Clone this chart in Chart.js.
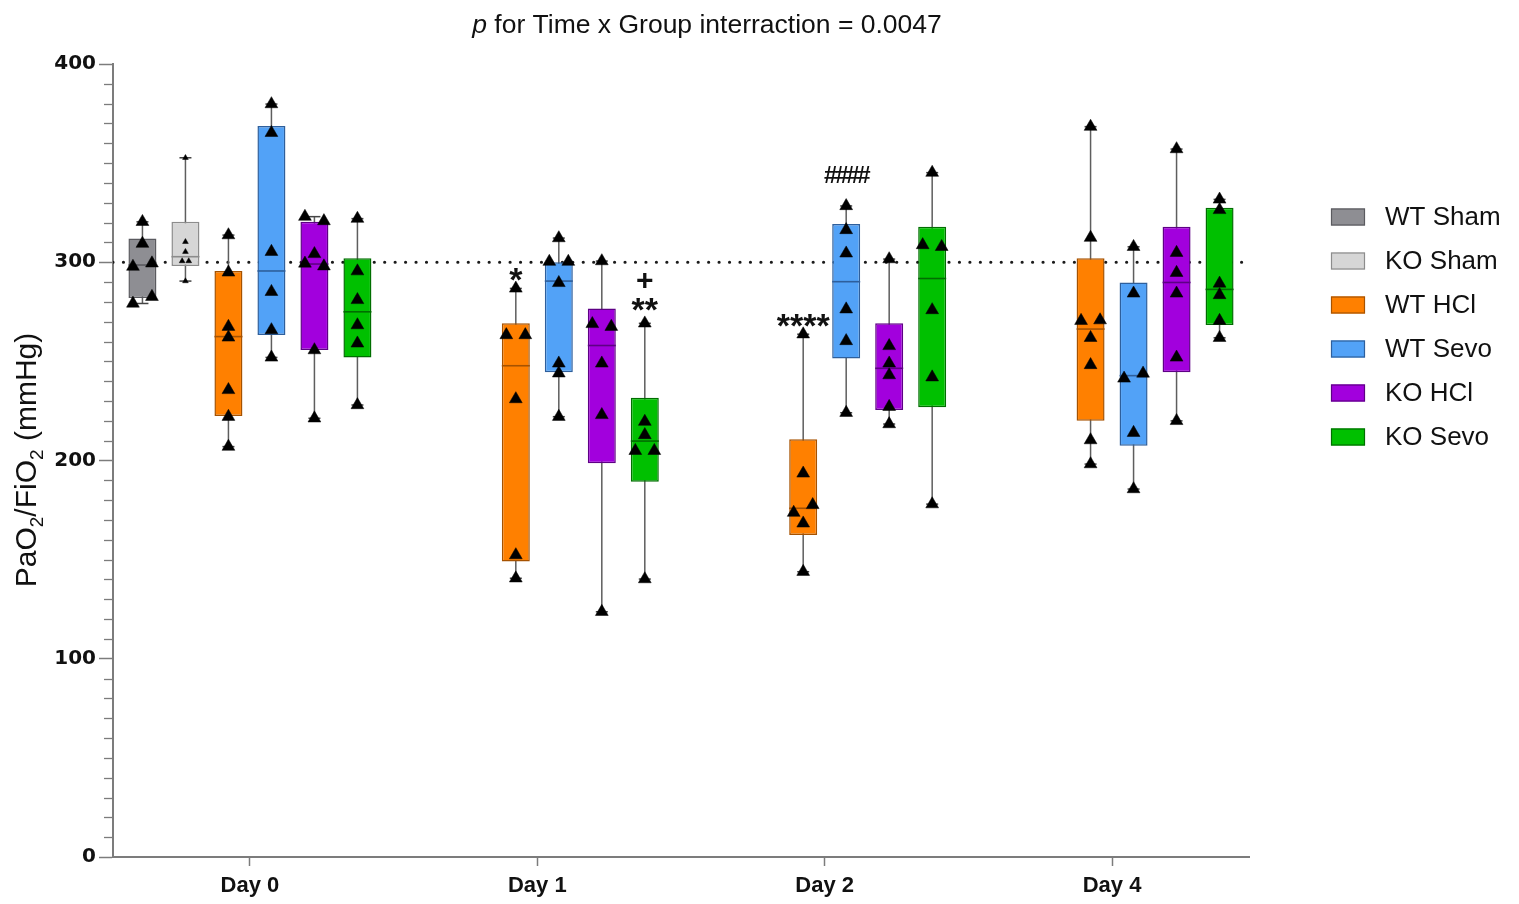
<!DOCTYPE html>
<html>
<head>
<meta charset="utf-8">
<title>PaO2/FiO2 by group and day</title>
<script src="https://cdn.jsdelivr.net/npm/chart.js@4.4.1/dist/chart.umd.min.js"></script>
<style>
  html, body { margin: 0; padding: 0; background: #ffffff; }
  #wrap { width: 1519px; height: 904px; position: relative; }
</style>
</head>
<body>
<div id="wrap"><canvas id="chart" width="1519" height="904"></canvas></div>
<script>
// ---- data -------------------------------------------------------------
const DAYS = ['Day 0', 'Day 1', 'Day 2', 'Day 4'];
const GROUPS = ['WT Sham', 'KO Sham', 'WT HCl', 'WT Sevo', 'KO HCl', 'KO Sevo'];
const Y_TICKS = [0, 100, 200, 300, 400];
const REF_LEVEL = 300;

// individual animals per day (null = group not sampled that day)
const WT_SHAM_PTS = [[320.4, 309.4, 297.8, 299.5, 279.2, 282.6], null, null, null];
const KO_SHAM_PTS = [[352.7, 310.3, 305.3, 300.6, 300.6, 290.5], null, null, null];
const WT_HCL_PTS = [
  [313.7, 294.9, 267.5, 262.1, 235.6, 222.1, 207.0],
  [286.8, 263.3, 263.3, 231.0, 152.3, 140.6],
  [263.7, 193.5, 173.7, 177.6, 168.3, 143.9],
  [368.4, 312.4, 270.5, 270.8, 261.9, 248.2, 210.3, 198.2]
];
const WT_SEVO_PTS = [
  [379.8, 365.3, 305.3, 285.1, 265.8, 252.0],
  [312.2, 300.3, 300.3, 289.6, 249.0, 244.0, 222.1],
  [328.4, 316.3, 304.5, 276.3, 260.3, 224.1],
  [307.8, 284.3, 241.4, 243.9, 214.0, 185.6]
];
const KO_HCL_PTS = [
  [323.0, 320.8, 304.2, 299.4, 298.0, 255.7, 221.3],
  [300.6, 268.9, 267.5, 249.0, 223.0, 123.7],
  [301.6, 257.8, 249.0, 243.1, 227.1, 218.4],
  [357.1, 304.8, 294.7, 284.3, 252.0, 220.0]
];
const KO_SEVO_PTS = [
  [322.0, 295.5, 281.0, 268.3, 259.1, 228.0],
  [269.2, 219.6, 212.9, 204.9, 204.9, 140.2],
  [345.2, 308.7, 307.8, 275.9, 242.0, 178.0],
  [331.7, 326.4, 289.3, 283.5, 270.5, 261.9]
];

// box statistics per day: [Q1, median, Q3]
const WT_SHAM_BOX = [[282.0, 298.6, 312.0], null, null, null];
const KO_SHAM_BOX = [[298.1, 302.8, 320.4], null, null, null];
const WT_HCL_BOX = [[222.4, 262.5, 295.6], [149.0, 247.8, 269.2], [162.4, 175.9, 210.7], [220.0, 266.3, 302.0]];
const WT_SEVO_BOX = [[263.3, 295.6, 368.7], [244.5, 290.5, 300.0], [251.5, 290.2, 319.3], [207.5, 242.8, 289.8]];
const KO_HCL_BOX = [[255.7, 299.1, 320.4], [198.6, 258.0, 276.7], [225.5, 246.5, 269.2], [244.5, 289.8, 317.9]];
const KO_SEVO_BOX = [[252.0, 275.0, 302.0], [189.3, 209.8, 231.6], [226.8, 291.8, 317.9], [268.3, 286.3, 327.5]];

// significance marks: day index, group, symbol
const MARK_DAY = [1, 1, 1, 2, 2];
const MARK_GROUP = ['WT HCl', 'KO Sevo', 'KO Sevo', 'WT HCl', 'WT Sevo'];
const MARK_TEXT = ['*', '**', '+', '****', '####'];

// ---- look ---------------------------------------------------------------
const FILLS = ['#8e8e93', '#d6d6d6', '#ff8000', '#52a2f7', '#a200dd', '#00c000'];
const EDGES = ['#5a5a5f', '#8c8c8c', '#a65200', '#2e5f9c', '#5e0085', '#006e00'];
const MARKER_R = [7.4, 3.3, 7.4, 7.4, 7.4, 7.4];
const SPREAD_PX = [19, 6.6, 19, 19, 19, 19];
const MARK_LIFT = [18, 23, 44, 18, 32];

const FONT = "'Liberation Sans', Arial, sans-serif";
const AXIS_GREY = '#7c7c7c';
const X_MIN = -0.4765, X_MAX = 3.4765;
const CAT_PCT = 0.8977, BAR_PCT = 0.651;
const SLOT = CAT_PCT / GROUPS.length;
const PLOT_LEFT = 113, PLOT_RIGHT = 1249;
const PX_PER_UNIT = (PLOT_RIGHT - PLOT_LEFT) / (X_MAX - X_MIN);
const CLUSTER_GAP = 4.3;   // values closer than this sit side by side

const PTS = [WT_SHAM_PTS, KO_SHAM_PTS, WT_HCL_PTS, WT_SEVO_PTS, KO_HCL_PTS, KO_SEVO_PTS];
const BOXES = [WT_SHAM_BOX, KO_SHAM_BOX, WT_HCL_BOX, WT_SEVO_BOX, KO_HCL_BOX, KO_SEVO_BOX];

// horizontal spread of near-equal values (pixel offsets)
function spread(vals, step) {
  const order = vals.map((v, i) => i).sort((a, b) => vals[a] - vals[b]);
  const offs = new Array(vals.length).fill(0);
  let cluster = [order[0]];
  const flush = () => {
    cluster.sort((a, b) => a - b);
    const k = cluster.length;
    cluster.forEach((idx, j) => { offs[idx] = (j - (k - 1) / 2) * step; });
  };
  for (let i = 1; i < order.length; i++) {
    if (vals[order[i]] - vals[order[i - 1]] < CLUSTER_GAP) cluster.push(order[i]);
    else { flush(); cluster = [order[i]]; }
  }
  flush();
  return offs;
}

function slotX(day, g) { return day + (g - (GROUPS.length - 1) / 2) * SLOT; }

// ---- datasets -----------------------------------------------------------
const datasets = [];
datasets.push({
  type: 'line', label: 'reference',
  data: [{ x: X_MIN, y: REF_LEVEL }, { x: X_MAX, y: REF_LEVEL }],
  borderColor: '#1a1a1a', borderWidth: 3.2, borderDash: [0, 10.45], borderCapStyle: 'round',
  pointRadius: 0, order: 10
});

GROUPS.forEach((name, g) => {
  const boxData = [], whisk = [], caps = [], meds = [], dots = [];
  BOXES[g].forEach((b, d) => {
    if (!b) return;
    const pts = PTS[g][d];
    const cx = slotX(d, g);
    const lo = Math.min(...pts), hi = Math.max(...pts);
    boxData.push({ x: d, y: [b[0], b[2]] });
    whisk.push({ x: cx, y: lo }, { x: cx, y: hi }, { x: cx, y: null });
    caps.push({ x: cx, y: lo }, { x: cx, y: hi });
    meds.push({ x: cx, y: b[1] });
    spread(pts, SPREAD_PX[g]).forEach((off, i) => dots.push({ x: cx + off / PX_PER_UNIT, y: pts[i] }));
  });
  datasets.push({
    type: 'line', label: name + ' range', data: whisk,
    borderColor: '#5e5e5e', borderWidth: 1.5, pointRadius: 0, spanGaps: false, order: 9
  });
  datasets.push({
    type: 'bar', label: name, data: boxData,
    backgroundColor: FILLS[g], borderColor: EDGES[g], borderWidth: 1.5, borderSkipped: false,
    categoryPercentage: CAT_PCT, barPercentage: BAR_PCT, order: 8
  });
  datasets.push({
    type: 'scatter', label: name + ' caps', data: caps,
    pointStyle: 'line', pointRadius: 6, pointBorderColor: '#444', pointBorderWidth: 1.5, order: 7
  });
  datasets.push({
    type: 'scatter', label: name + ' median', data: meds,
    pointStyle: 'line', pointRadius: 14, pointBorderColor: EDGES[g], pointBorderWidth: 1.6, order: 6
  });
  datasets.push({
    type: 'scatter', label: name + ' animals', data: dots,
    pointStyle: 'triangle', pointRadius: MARKER_R[g], pointBackgroundColor: '#000',
    pointBorderColor: '#000', pointBorderWidth: 0.5, order: 1
  });
});

// ---- extra drawing: minor ticks, titles, legend, significance marks -----
const decor = {
  id: 'decor',
  afterDraw(chart) {
    const ctx = chart.ctx, xs = chart.scales.x, ys = chart.scales.y;
    const area = chart.chartArea;
    ctx.save();

    // minor ticks on the value axis
    ctx.strokeStyle = AXIS_GREY; ctx.lineWidth = 1.3;
    for (let v = 10; v < 400; v += 10) {
      if (v % 100 === 0) continue;
      const py = Math.round(ys.getPixelForValue(v)) + 0.5;
      ctx.beginPath(); ctx.moveTo(area.left - 9, py); ctx.lineTo(area.left, py); ctx.stroke();
    }

    // chart title with italic p
    ctx.fillStyle = '#111';
    ctx.textBaseline = 'alphabetic';
    const t1 = 'p', t2 = ' for Time x Group interraction = 0.0047';
    ctx.font = 'italic 26.5px ' + FONT; const w1 = ctx.measureText(t1).width;
    ctx.font = '26.5px ' + FONT; const w2 = ctx.measureText(t2).width;
    let tx = 707 - (w1 + w2) / 2;
    ctx.font = 'italic 26.5px ' + FONT; ctx.fillText(t1, tx, 33);
    ctx.font = '26.5px ' + FONT; ctx.fillText(t2, tx + w1, 33);

    // value axis title with subscripts
    const parts = [['PaO', false], ['2', true], ['/FiO', false], ['2', true], [' (mmHg)', false]];
    const big = 30, small = 19;
    let total = 0;
    parts.forEach(([s, sub]) => { ctx.font = (sub ? small : big) + 'px ' + FONT; total += ctx.measureText(s).width; });
    ctx.translate(36, 460);
    ctx.rotate(-Math.PI / 2);
    let px = -total / 2;
    parts.forEach(([s, sub]) => {
      ctx.font = (sub ? small : big) + 'px ' + FONT;
      ctx.fillText(s, px, sub ? 7 : 0);
      px += ctx.measureText(s).width;
    });
    ctx.setTransform(1, 0, 0, 1, 0, 0);

    // legend
    ctx.font = '26px ' + FONT;
    ctx.textBaseline = 'middle';
    GROUPS.forEach((name, g) => {
      const cy = 217 + g * 44;
      ctx.fillStyle = FILLS[g];
      ctx.fillRect(1331, cy - 8.5, 34, 17);
      ctx.strokeStyle = EDGES[g]; ctx.lineWidth = 1.2;
      ctx.strokeRect(1331.5, cy - 8, 33, 16);
      ctx.fillStyle = '#111';
      ctx.fillText(name, 1385, cy + 1);
    });

    // significance marks above the whiskers
    ctx.textAlign = 'center';
    ctx.textBaseline = 'alphabetic';
    MARK_TEXT.forEach((txt, i) => {
      const g = GROUPS.indexOf(MARK_GROUP[i]);
      const d = MARK_DAY[i];
      const hi = Math.max(...PTS[g][d]);
      const cx = xs.getPixelForValue(slotX(d, g));
      const cy = ys.getPixelForValue(hi) - MARK_LIFT[i];
      let size, mid, spacing = '0px';
      if (txt[0] === '*') { size = 34; mid = 0.6; }
      else if (txt[0] === '+') { size = 30; mid = 0.34; }
      else { size = 24; mid = 0.36; spacing = '-2.3px'; }
      ctx.font = 'bold ' + size + 'px ' + FONT;
      if ('letterSpacing' in ctx) ctx.letterSpacing = spacing;
      ctx.fillStyle = '#111';
      ctx.fillText(txt, cx, cy + mid * size);
    });
    ctx.restore();
  }
};

new Chart(document.getElementById('chart').getContext('2d'), {
  type: 'scatter',
  data: { datasets },
  options: {
    responsive: false,
    animation: false,
    events: [],
    layout: { padding: { top: 64, right: 270, bottom: 0, left: 0 } },
    plugins: { legend: { display: false }, tooltip: { enabled: false }, title: { display: false } },
    scales: {
      x: {
        type: 'linear', min: X_MIN, max: X_MAX, offset: false, stacked: false,
        afterBuildTicks: (s) => { s.ticks = DAYS.map((_, i) => ({ value: i })); },
        afterFit: (s) => { s.height = 47; },
        grid: { display: true, offset: false, drawOnChartArea: false, tickLength: 9, tickColor: AXIS_GREY, tickWidth: 1.5 },
        border: { display: true, color: AXIS_GREY, width: 2 },
        ticks: {
          callback: (v) => DAYS[v] !== undefined ? DAYS[v] : '',
          font: { family: FONT, size: 22, weight: 'bold' }, color: '#111',
          padding: 7, maxRotation: 0, autoSkip: false
        }
      },
      y: {
        type: 'linear', min: 0, max: 400, stacked: false,
        afterBuildTicks: (s) => { s.ticks = Y_TICKS.map((v) => ({ value: v })); },
        afterFit: (s) => { s.width = 113; },
        grid: { drawOnChartArea: false, tickLength: 14, tickColor: AXIS_GREY, tickWidth: 1.5 },
        border: { display: true, color: AXIS_GREY, width: 2 },
        ticks: { font: { family: "'DejaVu Sans', sans-serif", size: 20, weight: 'bold' }, color: '#111', padding: 3 }
      }
    }
  },
  plugins: [decor]
});
</script>
</body>
</html>
